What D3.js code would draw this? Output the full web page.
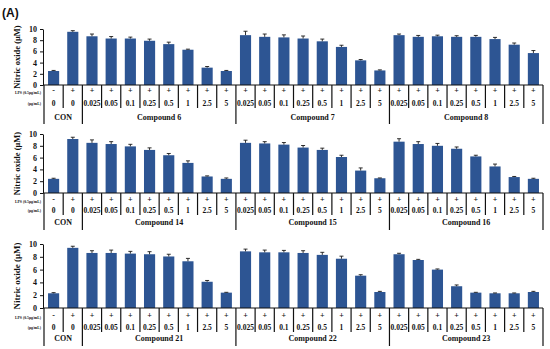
<!DOCTYPE html>
<html>
<head>
<meta charset="utf-8">
<script src="https://cdn.jsdelivr.net/npm/d3@7"></script>
<style>
  body { margin: 0; background: #fff; }
  svg { display: block; }
  text { font-family: "Liberation Serif", "Times New Roman", serif; font-weight: bold; fill: #111; }
</style>
</head>
<body>
<svg id="chart"></svg>
<script>
// shared table rows
const lpsRow = ["-", "+", "+", "+", "+", "+", "+", "+", "+", "+",
  "+", "+", "+", "+", "+", "+", "+", "+",
  "+", "+", "+", "+", "+", "+", "+", "+"]
const doses = ["0", "0", "0.025", "0.05", "0.1", "0.25", "0.5", "1", "2.5", "5",
  "0.025", "0.05", "0.1", "0.25", "0.5", "1", "2.5", "5",
  "0.025", "0.05", "0.1", "0.25", "0.5", "1", "2.5", "5"]
const yTicks = [0, 2, 4, 6, 8, 10]

// panel 1
const groups1 = ["CON", "Compound 6", "Compound 7", "Compound 8"]
const values1 = [2.5, 9.5, 8.7, 8.3, 8.3, 7.9, 7.3, 6.3, 3.1, 2.5,
  8.9, 8.6, 8.5, 8.3, 7.8, 6.8, 4.4, 2.6,
  8.9, 8.6, 8.7, 8.6, 8.6, 8.2, 7.2, 5.7]
const errors1 = [0.1, 0.2, 0.4, 0.35, 0.25, 0.3, 0.35, 0.1, 0.2, 0.1,
  0.7, 0.5, 0.45, 0.45, 0.4, 0.3, 0.15, 0.1,
  0.2, 0.25, 0.2, 0.2, 0.25, 0.3, 0.3, 0.45]

// panel 2
const groups2 = ["CON", "Compound 14", "Compound 15", "Compound 16"]
const values2 = [2.4, 9.15, 8.5, 8.3, 7.9, 7.3, 6.4, 5.1, 2.8, 2.4,
  8.5, 8.4, 8.2, 7.7, 7.3, 6.1, 3.8, 2.5,
  8.7, 8.3, 8.0, 7.5, 6.2, 4.5, 2.7, 2.4]
const errors2 = [0.1, 0.3, 0.5, 0.4, 0.35, 0.35, 0.3, 0.35, 0.1, 0.15,
  0.45, 0.3, 0.35, 0.35, 0.3, 0.3, 0.45, 0.05,
  0.5, 0.4, 0.4, 0.3, 0.2, 0.4, 0.1, 0.1]

// panel 3
const groups3 = ["CON", "Compound 21", "Compound 22", "Compound 23"]
const values3 = [2.3, 9.4, 8.6, 8.6, 8.5, 8.4, 8.05, 7.3, 4.1, 2.4,
  8.85, 8.7, 8.7, 8.6, 8.3, 7.7, 5.05, 2.5,
  8.4, 7.5, 6.0, 3.4, 2.4, 2.3, 2.3, 2.5]
const errors3 = [0.1, 0.25, 0.35, 0.45, 0.35, 0.4, 0.35, 0.45, 0.2, 0.05,
  0.35, 0.35, 0.3, 0.35, 0.4, 0.4, 0.15, 0.1,
  0.15, 0.1, 0.1, 0.2, 0.05, 0.05, 0.05, 0.1]

// bar index where each group starts (last entry = end)
const groupBreaks = [0, 2, 10, 18, 26]

const width = 550, height = 349
const svg = d3.select("#chart").attr("width", width).attr("height", height)

svg.append("text")
  .attr("x", 2).attr("y", 17)
  .style("font-family", "'Liberation Sans', Arial, sans-serif")
  .style("font-size", "12px")
  .text("(A)")

const x = d3.scaleBand()
  .domain(d3.range(doses.length))
  .range([44, 543])
  .paddingInner(0.42)
  .paddingOuter(0.21)

const step = x.step()
const edge = i => x(i) - (step - x.bandwidth()) / 2 // left edge of cell i

const panels = [
  {groups: groups1, values: values1, errors: errors1, top: 29, base: 85, rows: [90, 103, 117], bottom: 124},
  {groups: groups2, values: values2, errors: errors2, top: 134, base: 193, rows: [199, 210, 222], bottom: 230},
  {groups: groups3, values: values3, errors: errors3, top: 244, base: 308, rows: [315, 327, 338], bottom: 346}
]

panels.forEach(p => {
  const g = svg.append("g")
  const y = d3.scaleLinear().domain([0, 10]).range([p.base, p.top])

  // y axis
  g.append("g")
    .attr("transform", `translate(${x.range()[0] - 1},0)`)
    .call(d3.axisLeft(y).tickValues(yTicks).tickSize(3).tickSizeOuter(0).tickPadding(3))
    .call(a => a.selectAll("text").style("font-size", "8px").style("font-family", "'Liberation Serif', serif").style("font-weight", "bold"))
    .call(a => a.selectAll("line,path").attr("stroke", "#111"))

  g.append("text")
    .attr("transform", `translate(20,${(p.top + p.base) / 2}) rotate(-90)`)
    .attr("text-anchor", "middle")
    .style("font-size", (p.base - p.top > 60 ? 9 : 8.5) + "px")
    .text("Nitric oxide (μM)")

  // bars
  g.selectAll("rect.bar")
    .data(p.values)
    .join("rect")
    .attr("class", "bar")
    .attr("x", (d, i) => x(i))
    .attr("y", d => y(d))
    .attr("width", x.bandwidth())
    .attr("height", d => y(0) - y(d))
    .attr("fill", "#2d5593")

  // error bars
  const eb = g.selectAll("g.err")
    .data(p.values)
    .join("g")
    .attr("class", "err")
    .attr("stroke", "#1a1a1a")
    .attr("stroke-width", 0.9)
  eb.append("line")
    .attr("x1", (d, i) => x(i) + x.bandwidth() / 2)
    .attr("x2", (d, i) => x(i) + x.bandwidth() / 2)
    .attr("y1", d => y(d))
    .attr("y2", (d, i) => y(d + p.errors[i]))
  eb.append("line")
    .attr("x1", (d, i) => x(i) + x.bandwidth() / 2 - 2)
    .attr("x2", (d, i) => x(i) + x.bandwidth() / 2 + 2)
    .attr("y1", (d, i) => y(d + p.errors[i]))
    .attr("y2", (d, i) => y(d + p.errors[i]))

  // baseline
  g.append("line")
    .attr("x1", x.range()[0] - 1).attr("x2", x.range()[1])
    .attr("y1", y(0)).attr("y2", y(0))
    .attr("stroke", "#111").attr("stroke-width", 1.2)

  // row labels
  g.append("text")
    .attr("x", 41).attr("y", p.rows[0] + 3.5)
    .attr("text-anchor", "end")
    .style("font-size", "3.8px")
    .text("LPS (0.5μg/mL)")
  g.append("text")
    .attr("x", 41).attr("y", p.rows[1] + 1.5)
    .attr("text-anchor", "end")
    .style("font-size", "3.8px")
    .text("(μg/mL)")

  // table cells
  g.selectAll("text.lps")
    .data(lpsRow)
    .join("text")
    .attr("class", "lps")
    .attr("x", (d, i) => x(i) + x.bandwidth() / 2)
    .attr("y", p.rows[0] + 3)
    .attr("text-anchor", "middle")
    .style("font-size", "8px")
    .text(d => d)
  g.selectAll("text.dose")
    .data(doses)
    .join("text")
    .attr("class", "dose")
    .attr("x", (d, i) => x(i) + x.bandwidth() / 2)
    .attr("y", p.rows[1] + 3)
    .attr("text-anchor", "middle")
    .style("font-size", "7.5px")
    .text(d => d)

  // short dividers between cells
  g.selectAll("line.div")
    .data(d3.range(1, doses.length).filter(i => !groupBreaks.includes(i)))
    .join("line")
    .attr("class", "div")
    .attr("x1", i => edge(i)).attr("x2", i => edge(i))
    .attr("y1", p.base).attr("y2", p.rows[1] + 5)
    .attr("stroke", "#111").attr("stroke-width", 1.2)

  // long group dividers
  g.selectAll("line.grp")
    .data(groupBreaks)
    .join("line")
    .attr("class", "grp")
    .attr("x1", i => i < doses.length ? edge(i) : x.range()[1])
    .attr("x2", i => i < doses.length ? edge(i) : x.range()[1])
    .attr("y1", p.base).attr("y2", p.bottom)
    .attr("stroke", "#111").attr("stroke-width", 1.2)

  // group names
  g.selectAll("text.grpname")
    .data(p.groups)
    .join("text")
    .attr("class", "grpname")
    .attr("x", (d, k) => (x(groupBreaks[k]) + x(groupBreaks[k + 1] - 1) + x.bandwidth()) / 2)
    .attr("y", p.rows[2] + 3)
    .attr("text-anchor", "middle")
    .style("font-size", "8px")
    .text(d => d)
})
</script>
</body>
</html>
